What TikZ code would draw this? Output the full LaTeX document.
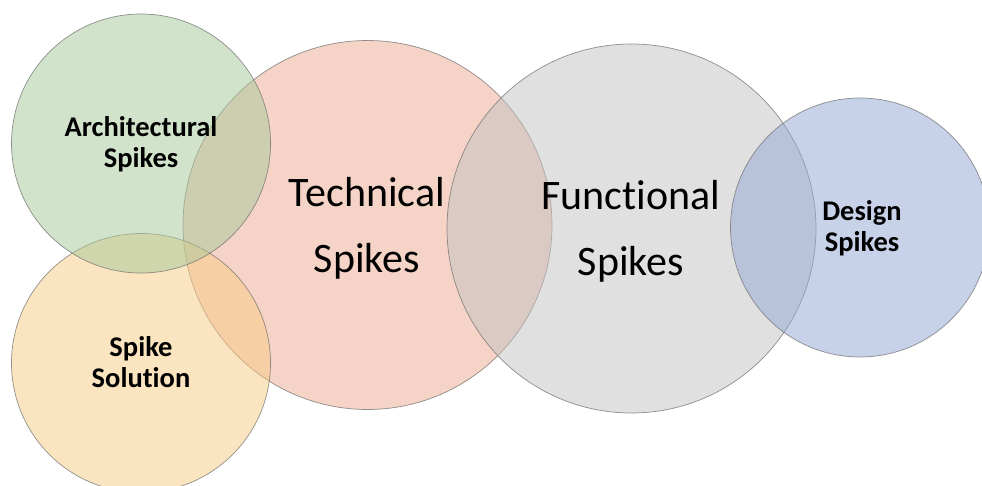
\documentclass[tikz,border=0pt]{standalone}
\usepackage{fontspec}
\setmainfont[Ligatures=NoCommon]{Carlito}
\definecolor{archfill}{RGB}{167,201,153}
\definecolor{solfill}{RGB}{249,205,133}
\definecolor{techfill}{RGB}{237,169,143}
\definecolor{funcfill}{RGB}{195,195,195}
\definecolor{desfill}{RGB}{145,165,209}
\definecolor{rim}{RGB}{110,110,110}
\tikzset{
  bubble/.style={circle, inner sep=0pt, draw=rim, draw opacity=0.75, line width=0.7pt,
    fill opacity=0.5},
  smalllbl/.style={align=center, inner sep=0pt, font=\fontsize{28.5}{31}\selectfont\bfseries, text=black},
  biglbl/.style={align=center, inner sep=0pt, font=\fontsize{42}{66}\selectfont, text=black}
}
\begin{document}
\begin{tikzpicture}[x=1pt, y=-1pt]
  \useasboundingbox (0,0) rectangle (982,486);
  \clip (0,0) rectangle (982,486);
  \fill[white] (0,0) rectangle (982,486);
  % the five overlapping spike circles, back to front
  \node[bubble, fill=techfill, minimum size=369pt] (tech) at (367.5,225) {};
  \node[bubble, fill=funcfill, minimum size=369pt] (func) at (631.5,228.5) {};
  \node[bubble, fill=desfill, minimum size=259pt] (des) at (860,227.5) {};
  \node[bubble, fill=solfill, minimum size=259pt] (sol) at (141,363) {};
  \node[bubble, fill=archfill, minimum size=259pt] (arch) at (141,143.5) {};
  % labels
  \node[smalllbl] (archlbl) at (141,144.5) {Architectural\\Spikes};
  \node[smalllbl] (sollbl) at (141,362) {Spike\\Solution};
  \node[biglbl] (techlbl) at (367,228) {Technical\\Spikes};
  \node[biglbl] (funclbl) at (631,231.5) {Functional\\Spikes};
  \node[smalllbl] (deslbl) at (862,228) {Design\\Spikes};
\end{tikzpicture}
\end{document}
